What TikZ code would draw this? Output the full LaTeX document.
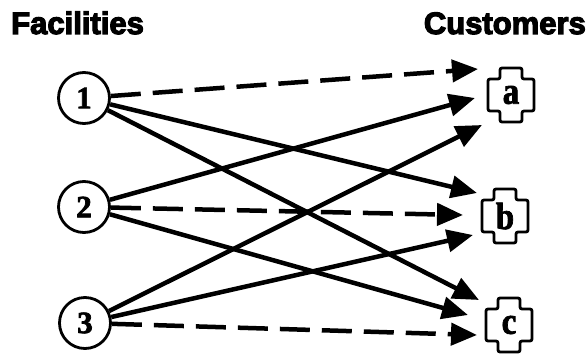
\documentclass[tikz,border=0pt]{standalone}
\usepackage{fontspec}
\setmainfont{Liberation Serif}
\newfontfamily\headfont{Liberation Sans Bold}
\newfontfamily\labfont{Liberation Serif Bold}
\usetikzlibrary{arrows.meta}
\newcommand\heavytext[2]{\special{pdf:literal direct #1 w 2 Tr}#2\special{pdf:literal direct 0 Tr}}
\tikzset{
  facility/.style={circle,draw,line width=2.8pt,minimum size=51pt,inner sep=0pt,
    font=\labfont\fontsize{31}{31}\selectfont},
  customer/.style={inner sep=0pt,minimum width=44pt,minimum height=54pt,
    font=\labfont\fontsize{33}{33}\selectfont},
  head/.style={inner sep=0pt,font=\headfont\fontsize{31}{31}\selectfont},
  link/.style={line width=4.5pt,-{Triangle[length=26pt,width=22pt]}},
  dashlink/.style={link,dash pattern=on 30pt off 12pt},
  crossline/.style={line width=2.8pt,rounded corners=2pt},
}
\newcommand\custcross[1]{%
  \draw[crossline,shift={(#1.center)}] (-11,-27) -- (11,-27) -- (11,-16)
    -- (23,-16) -- (23,16) -- (11,16) -- (11,27) -- (-11,27) -- (-11,16)
    -- (-23,16) -- (-23,-16) -- (-11,-16) -- cycle;}
\begin{document}
\begin{tikzpicture}[x=1pt,y=-1pt]
\useasboundingbox (0,0) rectangle (588,353);
\node[head,anchor=base west] (hf) at (11,34) {\heavytext{1.2}{Facilities}};
\node[head,anchor=base east] (hc) at (586,34) {\heavytext{1.2}{Customers}};

\node[facility] (f1) at (84,98) {\heavytext{0.7}{1}};
\node[facility] (f2) at (84,207) {\heavytext{0.7}{2}};
\node[facility] (f3) at (85,323) {\heavytext{0.7}{3}};

\node[customer] (ca) at (511,95) {\scalebox{1}[1.15]{\heavytext{0.7}{a}}};
\node[customer] (cb) at (505,216) {\scalebox{1}[1.15]{\heavytext{0.7}{b}}};
\node[customer] (cc) at (509,325) {\scalebox{1}[1.15]{\heavytext{0.7}{c}}};
\custcross{ca}
\custcross{cb}
\custcross{cc}

\coordinate (t1a) at (478,69);
\coordinate (t2a) at (475,98);
\coordinate (t3a) at (482,125);
\coordinate (t1b) at (477,193);
\coordinate (t2b) at (463,215);
\coordinate (t3b) at (473,235);
\coordinate (t1c) at (479,300);
\coordinate (t2c) at (468,315);
\coordinate (t3c) at (477,335);

\draw[dashlink] (f1) -- (t1a);
\draw[link] (f2) -- (t2a);
\draw[link] (f3) -- (t3a);
\draw[link] (f1) -- (t1b);
\draw[dashlink] (f2) -- (t2b);
\draw[link] (f3) -- (t3b);
\draw[link] (f1) -- (t1c);
\draw[link] (f2) -- (t2c);
\draw[dashlink] (f3) -- (t3c);
\end{tikzpicture}
\end{document}
